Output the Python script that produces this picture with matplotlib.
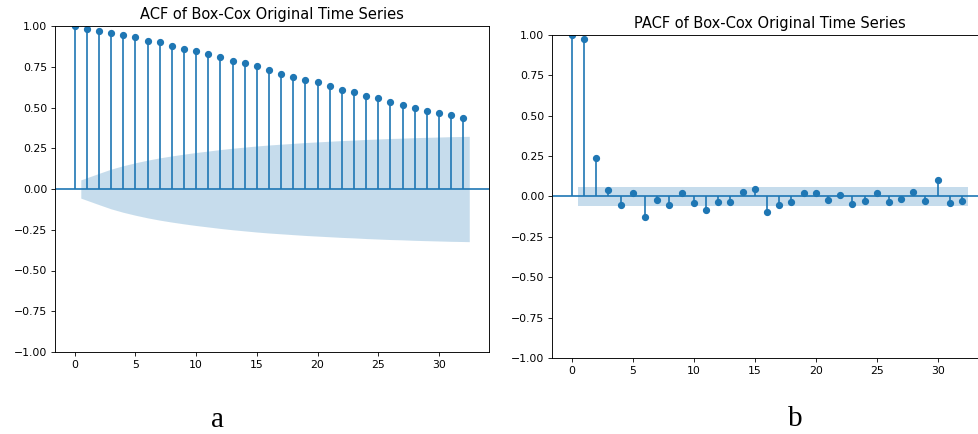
import matplotlib.pyplot as plt
import numpy as np

# ACF of the Box-Cox series, lags 0..32
acf_lags = list(range(33))
acf_values = [1.000, 0.979, 0.969, 0.957, 0.942, 0.932, 0.910, 0.899, 0.879, 0.860,
              0.844, 0.830, 0.807, 0.784, 0.770, 0.752, 0.729, 0.708, 0.686, 0.669,
              0.655, 0.630, 0.608, 0.593, 0.571, 0.556, 0.534, 0.517, 0.495, 0.480,
              0.468, 0.452, 0.433]
# half-width of the shaded confidence band for lags 1..32
acf_band = [0.056, 0.096, 0.122, 0.143, 0.161, 0.177, 0.191, 0.203, 0.214, 0.224,
            0.233, 0.242, 0.250, 0.257, 0.264, 0.270, 0.275, 0.280, 0.285, 0.289,
            0.293, 0.297, 0.300, 0.304, 0.307, 0.310, 0.312, 0.315, 0.317, 0.319,
            0.321, 0.323]

# PACF, lags 0..32
pacf_lags = list(range(33))
pacf_values = [1.000, 0.975, 0.240, 0.042, -0.050, 0.023, -0.128, -0.021, -0.050, 0.022,
               -0.042, -0.083, -0.034, -0.036, 0.029, 0.046, -0.096, -0.050, -0.035, 0.021,
               0.019, -0.024, 0.008, -0.045, -0.029, 0.022, -0.035, -0.013, 0.030, -0.029,
               0.102, -0.041, -0.029]
pacf_band = [0.056] * 32

titles = ["ACF of Box-Cox Original Time Series", "PACF of Box-Cox Original Time Series"]
panel_labels = ["a", "b"]

C0 = "#1f77b4"


def corr_panel(ax, lags, values, band, title):
    lags = np.asarray(lags, dtype=float)
    values = np.asarray(values)
    ax.vlines(lags, 0, values, color=C0, linewidth=1.2)
    ax.axhline(0, color=C0, linewidth=1.2)
    ax.margins(0.05)
    ax.plot(lags, values, linestyle="None", marker="o", markersize=4.2, color=C0)

    # band skips lag 0; first/last x nudged by half a lag like statsmodels does
    bx = lags[1:].copy()
    bx[0] -= 0.5
    bx[-1] += 0.5
    band = np.asarray(band)
    ax.fill_between(bx, -band, band, color=C0, alpha=0.25, linewidth=0)

    ax.set_title(title, fontsize=10.5, pad=5)
    ax.set_ylim(-1, 1)
    ax.set_yticks([-1.0, -0.75, -0.5, -0.25, 0.0, 0.25, 0.5, 0.75, 1.0])
    ax.set_xticks([0, 5, 10, 15, 20, 25, 30])
    ax.tick_params(labelsize=7.8, length=2.8, width=0.6, pad=2.7)
    for sp in ax.spines.values():
        sp.set_linewidth(0.65)


fig = plt.figure(figsize=(9.79, 4.34), dpi=100)
ax1 = fig.add_axes([55 / 979, 82 / 434, 434 / 979, 326 / 434])
ax2 = fig.add_axes([552 / 979, 76 / 434, 436 / 979, 323 / 434])

corr_panel(ax1, acf_lags, acf_values, acf_band, titles[0])
corr_panel(ax2, pacf_lags, pacf_values, pacf_band, titles[1])

fig.text(218 / 979, 1 / 434, panel_labels[0], fontsize=21, family="Liberation Serif",
         ha="center", va="bottom")
fig.text(795 / 979, 2 / 434, panel_labels[1], fontsize=21, family="Liberation Serif",
         ha="center", va="bottom")

fig.savefig("out.png", dpi=100)
